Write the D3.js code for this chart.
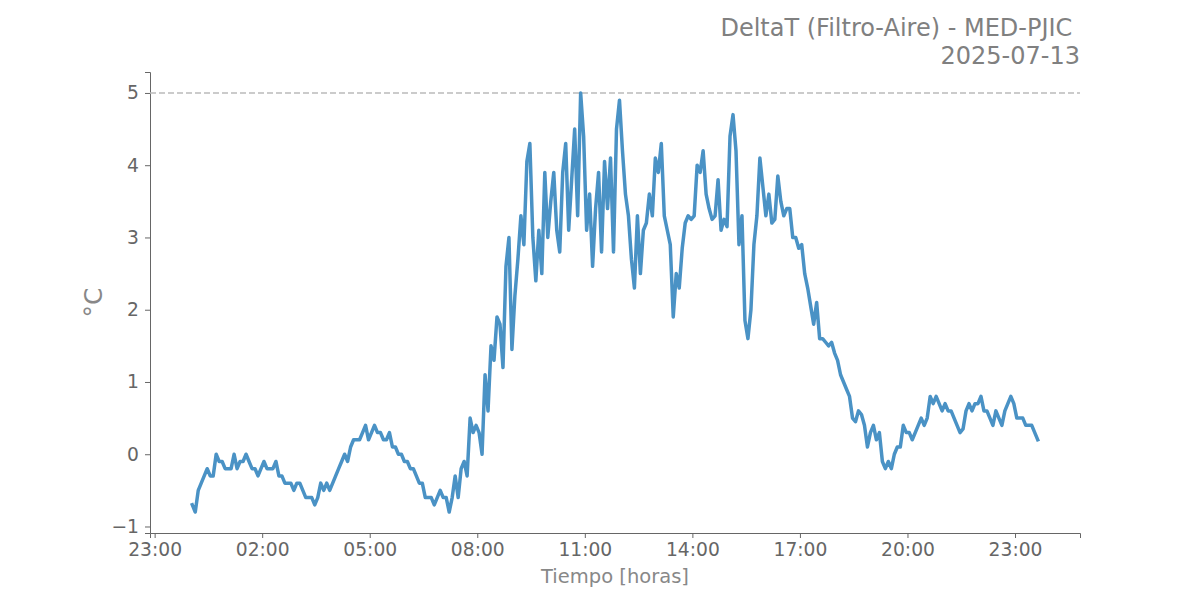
<!DOCTYPE html>
<html lang="es">
<head>
<meta charset="utf-8">
<title>DeltaT (Filtro-Aire) - MED-PJIC</title>
<script src="https://cdn.jsdelivr.net/npm/d3@7"></script>
<style>
  body { margin: 0; background: #fff; }
  text { font-family: "DejaVu Sans", sans-serif; }
</style>
</head>
<body>
<script>
// title lines
var titleLines = ["DeltaT (Filtro-Aire) - MED-PJIC ", "2025-07-13"];

// readings every 5 minutes, starting 00:03 on the day
var startTime = "2025-07-13T00:03:00";
var stepMinutes = 5;
var deltaT = [
  -0.7, -0.8, -0.5, -0.4, -0.3, -0.2, -0.3, -0.3, 0.0, -0.1,
  -0.1, -0.2, -0.2, -0.2, 0.0, -0.2, -0.1, -0.1, 0.0, -0.1,
  -0.2, -0.2, -0.3, -0.2, -0.1, -0.2, -0.2, -0.2, -0.1, -0.3,
  -0.3, -0.4, -0.4, -0.4, -0.5, -0.4, -0.4, -0.5, -0.6, -0.6,
  -0.6, -0.7, -0.6, -0.4, -0.5, -0.4, -0.5, -0.4, -0.3, -0.2,
  -0.1, 0.0, -0.1, 0.1, 0.2, 0.2, 0.2, 0.3, 0.4, 0.2,
  0.3, 0.4, 0.3, 0.3, 0.2, 0.2, 0.3, 0.1, 0.1, 0.0,
  0.0, -0.1, -0.1, -0.2, -0.2, -0.3, -0.4, -0.4, -0.6, -0.6,
  -0.6, -0.7, -0.6, -0.5, -0.6, -0.6, -0.8, -0.6, -0.3, -0.6,
  -0.2, -0.1, -0.3, 0.5, 0.3, 0.4, 0.3, 0.0, 1.1, 0.6,
  1.5, 1.3, 1.9, 1.8, 1.2, 2.6, 3.0, 1.45, 2.2, 2.7,
  3.3, 2.9, 4.05, 4.3, 3.0, 2.4, 3.1, 2.5, 3.9, 3.0,
  3.5, 3.9, 3.1, 2.8, 3.9, 4.3, 3.1, 3.8, 4.5, 3.3,
  5.0, 4.4, 3.1, 3.6, 2.6, 3.4, 3.9, 2.8, 4.05, 3.4,
  4.1, 2.8, 4.5, 4.9, 4.2, 3.6, 3.3, 2.7, 2.3, 3.3,
  2.5, 3.1, 3.2, 3.6, 3.3, 4.1, 3.9, 4.3, 3.3, 3.1,
  2.9, 1.9, 2.5, 2.3, 2.85, 3.2, 3.3, 3.25, 3.3, 4.0,
  3.9, 4.2, 3.6, 3.4, 3.25, 3.3, 3.8, 3.1, 3.25, 3.15,
  4.4, 4.7, 4.2, 2.9, 3.3, 1.85, 1.6, 2.0, 2.9, 3.3,
  4.1, 3.7, 3.3, 3.6, 3.2, 3.25, 3.85, 3.5, 3.3, 3.4,
  3.4, 3.0, 3.0, 2.85, 2.9, 2.5, 2.3, 2.05, 1.8, 2.1,
  1.6, 1.6, 1.55, 1.5, 1.55, 1.4, 1.3, 1.1, 1.0, 0.9,
  0.8, 0.5, 0.45, 0.6, 0.55, 0.4, 0.1, 0.3, 0.4, 0.2,
  0.3, -0.1, -0.2, -0.1, -0.2, 0.0, 0.1, 0.1, 0.4, 0.3,
  0.3, 0.2, 0.3, 0.4, 0.5, 0.4, 0.5, 0.8, 0.7, 0.8,
  0.7, 0.6, 0.7, 0.6, 0.6, 0.5, 0.4, 0.3, 0.35, 0.6,
  0.7, 0.6, 0.7, 0.7, 0.8, 0.6, 0.6, 0.5, 0.4, 0.6,
  0.5, 0.4, 0.6, 0.7, 0.8, 0.7, 0.5, 0.5, 0.5, 0.4,
  0.4, 0.4, 0.3, 0.2
];

// axis ticks
var yTicks = [-1, 0, 1, 2, 3, 4, 5];
var xTickLabels = ["23:00", "02:00", "05:00", "08:00", "11:00", "14:00", "17:00", "20:00", "23:00"];
var firstTick = "2025-07-12T23:00:00";
var refLine = 5;

var width = 1200, height = 600;
var margin = {top: 72, right: 120, bottom: 67, left: 150};

var svg = d3.select("body").append("svg")
  .attr("width", width)
  .attr("height", height);

var t0 = new Date(startTime);
var data = deltaT.map(function(v, i) {
  return {t: d3.timeMinute.offset(t0, i * stepMinutes), v: v};
});

// matplotlib style 5% padding around the data
var tMin = data[0].t, tMax = data[data.length - 1].t;
var span = tMax - tMin;
var xScale = d3.scaleTime()
  .domain([new Date(+tMin - span * 0.05), new Date(+tMax + span * 0.05)])
  .range([margin.left, width - margin.right]);

var vMin = d3.min(deltaT), vMax = d3.max(deltaT);
var vPad = (vMax - vMin) * 0.05;
var yScale = d3.scaleLinear()
  .domain([vMin - vPad, vMax + vPad])
  .range([height - margin.bottom, margin.top]);

var tickDates = xTickLabels.map(function(d, i) {
  return d3.timeHour.offset(new Date(firstTick), i * 3);
});

var grey = "#666666";

// x axis
var xAxis = d3.axisBottom(xScale)
  .tickValues(tickDates)
  .tickFormat(function(d, i) { return xTickLabels[i]; })
  .tickSizeOuter(0)
  .tickSize(5)
  .tickPadding(5);

var gx = svg.append("g")
  .attr("transform", "translate(0," + (height - margin.bottom) + ")")
  .call(xAxis);

// y axis
var yAxis = d3.axisLeft(yScale)
  .tickValues(yTicks)
  .tickFormat(function(d) { return d < 0 ? "\u2212" + Math.abs(d) : d; })
  .tickSizeOuter(0)
  .tickSize(5)
  .tickPadding(6);

var gy = svg.append("g")
  .attr("transform", "translate(" + margin.left + ",0)")
  .call(yAxis);

[gx, gy].forEach(function(g) {
  g.select(".domain").attr("stroke", grey).attr("stroke-width", 1);
  g.selectAll(".tick line").attr("stroke", grey);
  g.selectAll(".tick text")
    .attr("fill", grey)
    .style("font-family", "DejaVu Sans")
    .style("font-size", "18.7px");
});

// reference line at 5
svg.append("line")
  .attr("x1", margin.left)
  .attr("x2", width - margin.right)
  .attr("y1", yScale(refLine))
  .attr("y2", yScale(refLine))
  .attr("stroke", "#bbbbbb")
  .attr("stroke-width", 1.5)
  .attr("stroke-dasharray", "6,3");

// series line
var line = d3.line()
  .x(function(d) { return xScale(d.t); })
  .y(function(d) { return yScale(d.v); });

svg.append("path")
  .datum(data)
  .attr("d", line)
  .attr("fill", "none")
  .attr("stroke", "#4a92c5")
  .attr("stroke-width", 3.5)
  .attr("stroke-linejoin", "round")
  .attr("stroke-linecap", "square");

// axis labels
svg.append("text")
  .attr("x", (margin.left + width - margin.right) / 2)
  .attr("y", 583)
  .attr("text-anchor", "middle")
  .attr("fill", "#888888")
  .style("font-size", "19.5px")
  .text("Tiempo [horas]");

svg.append("text")
  .attr("transform", "translate(102," + ((margin.top + height - margin.bottom) / 2) + ") rotate(-90)")
  .attr("text-anchor", "middle")
  .attr("fill", "#888888")
  .style("font-size", "25px")
  .text("°C");

// title, right aligned
svg.selectAll(".title")
  .data(titleLines)
  .enter().append("text")
  .attr("class", "title")
  .attr("x", width - margin.right)
  .attr("y", function(d, i) { return 36 + i * 28; })
  .attr("text-anchor", "end")
  .attr("fill", "#808080")
  .style("font-size", "24px")
  .style("white-space", "pre")
  .text(function(d) { return d; });
</script>
</body>
</html>
